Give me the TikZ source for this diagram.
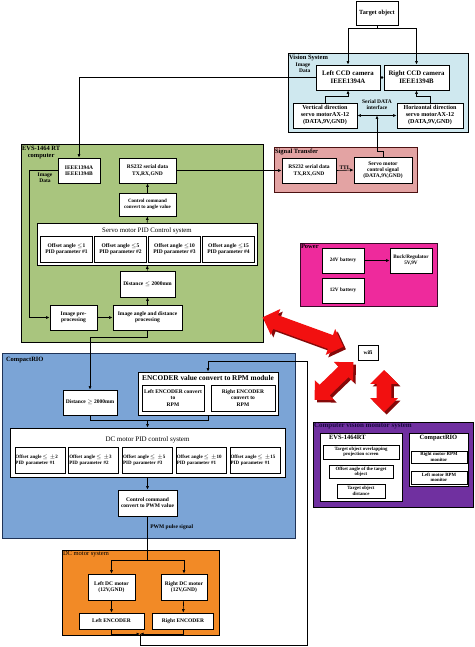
\documentclass[tikz,border=0pt]{standalone}
\usepackage{fontspec}
\setmainfont{Liberation Serif}
\usetikzlibrary{arrows.meta,shapes.arrows}
\definecolor{vision}{HTML}{CFE8EF}
\definecolor{evs}{HTML}{A9C57E}
\definecolor{signal}{HTML}{E3A3A3}
\definecolor{signalline}{HTML}{4A1010}
\definecolor{power}{HTML}{EE2A9C}
\definecolor{powerline}{HTML}{3A0A2A}
\definecolor{crio}{HTML}{7BA4D6}
\definecolor{crioline}{HTML}{1F3357}
\definecolor{dcmotor}{HTML}{F28A26}
\definecolor{monitor}{HTML}{7030A0}
\definecolor{monitortext}{HTML}{1A0A40}
\definecolor{wifired}{HTML}{F21010}

\begin{document}
\begin{tikzpicture}[x=1pt,y=-1pt,>={Latex[length=3.5pt,width=3pt]},line width=0.6pt,
  box/.style={draw,fill=white,line width=0.8pt,align=center,inner sep=0.5pt,font=\fontsize{5.5}{6.2}\selectfont\bfseries},
  sz/.style 2 args={minimum width=#1,minimum height=#2},
  grp/.style={draw,line width=1pt,inner sep=0pt},
  grptitle/.style={anchor=north west,inner sep=1.2pt,font=\fontsize{6.5}{7}\selectfont\bfseries},
  note/.style={inner sep=0.5pt,align=center,font=\fontsize{5.5}{6.2}\selectfont\bfseries},
  link/.style={shape=double arrow,double arrow head extend=6.5pt,inner xsep=0pt,inner ysep=7pt}]
\useasboundingbox (0,0) rectangle (474,647);

% groups
\node[grp,fill=vision,sz={180}{79}] (vision) at (378,93.5) {};
\node[grp,fill=evs,sz={242}{197}] (evs) at (142,243.5) {};
\node[grp,fill=signal,draw=signalline,sz={143}{44}] (signal) at (345.5,170) {};
\node[grp,fill=power,draw=powerline,sz={137}{63}] (power) at (368.5,274.5) {};
\node[grp,fill=crio,draw=crioline,sz={293}{185}] (crio) at (148.5,445.5) {};
\node[grp,fill=dcmotor,sz={157}{85}] (dcm) at (140.5,592.5) {};
\node[grp,fill=monitor,sz={160}{85}] (cvm) at (393,464.5) {};

\node[grptitle] (visiont) at (vision.north west) {Vision System};
\node[grptitle,align=center] (evst) at (evs.north west) {EVS-1464 RT\\computer};
\node[grptitle] (signalt) at (signal.north west) {Signal Transfer};
\node[grptitle] (powert) at (power.north west) {Power};
\node[grptitle] (criot) at ([shift={(3,3)}]crio.north west) {CompactRIO};
\node[grptitle,font=\fontsize{6.5}{7}\selectfont] (dcmt) at (dcm.north west) {DC motor system};
\node[grptitle,text=monitortext,font=\fontsize{7}{7.5}\selectfont\bfseries] (cvmt) at (cvm.north west) {Computer vision monitor system};

% target and vision system
\node[box,sz={42}{24},font=\fontsize{6.3}{7}\selectfont\bfseries] (target) at (377,13) {Target object};
\node[box,sz={64}{25},font=\fontsize{6.8}{7.8}\selectfont\bfseries] (ccdL) at (348,77.5) {Left CCD camera\\IEEE1394A};
\node[box,sz={65}{25},font=\fontsize{6.8}{7.8}\selectfont\bfseries] (ccdR) at (416.5,77.5) {Right CCD camera\\IEEE1394B};
\node[box,sz={64}{25},font=\fontsize{6.1}{7}\selectfont\bfseries] (servoV) at (325,115.5) {Vertical direction\\servo motorAX-12\\(DATA,9V,GND)};
\node[box,sz={66}{25},font=\fontsize{6.1}{7}\selectfont\bfseries] (servoH) at (430,115.5) {Horizontal direction\\servo motorAX-12\\(DATA,9V,GND)};
\node[note] (serialt) at (377,105) {Serial DATA\\interface};
\node[note,align=right] (imgt1) at (303,68) {Image\\Data};

% signal transfer
\node[box,sz={54}{25}] (rsS) at (309,170.5) {RS232 serial data\\TX,RX,GND};
\node[box,sz={58}{26}] (servoSig) at (383,170) {Servo motor\\control signal\\(DATA,9V,GND)};

% EVS-1464 RT computer
\node[box,sz={42}{25}] (ieee) at (79,170.5) {IEEE1394A\\IEEE1394B};
\node[note] (imgt2) at (45,178) {Image\\Data};
\node[box,sz={57}{25}] (rsE) at (147.5,170.5) {RS232 serial data\\TX,RX,GND};
\node[box,sz={57}{23},font=\fontsize{5}{6}\selectfont\bfseries] (cmdA) at (147.5,204.5) {Control command\\convert to angle value};
\node[box,sz={220}{42}] (spid) at (147,244) {};
\node[inner sep=0pt,font=\fontsize{6.8}{7}\selectfont] (spidt) at (147,230.5) {Servo motor PID Control system};
\foreach \i/\a in {1/1,2/5,3/10,4/15}
  \node[box,sz={52}{26}] (sp\i) at ({12.5+54*\i},249) {Offset angle $\leq$\a\\PID parameter \#\i};
\node[box,sz={55}{26}] (dist1) at (147.5,284) {Distance $\leq$ 2000mm};
\node[box,sz={47}{25}] (pre) at (73.5,317.5) {Image pre-\\processing};
\node[box,sz={69}{25}] (ang) at (147.5,317.5) {Image angle and distance\\processing};

% CompactRIO
\node[box,sz={54}{25}] (dist2) at (90,402.5) {Distance $\geq$ 2000mm};
\node[box,sz={140}{43}] (enc) at (208,393.5) {};
\node[inner sep=0pt,font=\fontsize{7.3}{8}\selectfont\bfseries] (enct) at (208,378.5) {ENCODER value convert to RPM module};
\node[box,sz={62}{26}] (encL) at (173,398) {Left ENCODER convert\\to\\RPM};
\node[box,sz={64}{26}] (encR) at (243,398) {Right ENCODER\\convert to\\RPM};
\node[box,sz={275}{49}] (dpid) at (147.5,452.5) {};
\node[inner sep=0pt,font=\fontsize{7}{7.5}\selectfont] (dpidt) at (147.5,439.5) {DC motor PID control system};
\foreach \i/\a/\p in {1/2/1,2/3/2,3/5/3,4/10/1,5/15/1}
  \node[box,sz={50}{26},text width=49pt,align=left,font=\fontsize{5}{6.2}\selectfont\bfseries] (dp\i) at ({-13.75+53.75*\i},460) {Offset angle\,$\leq\pm$\a\\PID parameter \#\p};
\node[box,sz={59}{26}] (pwm) at (147.5,503) {Control command\\convert to PWM value};

% DC motor system
\node[box,sz={47}{26}] (motL) at (111.5,587) {Left DC motor\\(12V,GND)};
\node[box,sz={46}{26}] (motR) at (184,587) {Right DC motor\\(12V,GND)};
\node[box,sz={65}{16}] (encoderL) at (111.5,621) {Left ENCODER};
\node[box,sz={61}{16}] (encoderR) at (183,621) {Right ENCODER};

% power
\node[box,sz={42}{25},font=\fontsize{5.2}{6}\selectfont\bfseries] (bat24) at (343,260.5) {24V battery};
\node[box,sz={42}{25},font=\fontsize{5.2}{6}\selectfont\bfseries] (bat12) at (343,290.5) {12V battery};
\node[box,sz={42}{25},font=\fontsize{5.2}{6}\selectfont\bfseries] (buck) at (411,260.5) {Buck/Regulator\\5V,9V};

% wifi links
\node[box,sz={20}{15}] (wifi) at (368,352.5) {wifi};
\node[link,fill=wifired!55!black,minimum height=86pt,rotate=-20] (linkAs) at (305.5,334.5) {};
\node[link,fill=wifired,minimum height=86pt,rotate=-20] (linkA) at (303,332) {};
\node[link,fill=wifired!55!black,minimum height=54pt,rotate=44] (linkBs) at (336.5,383.5) {};
\node[link,fill=wifired,minimum height=54pt,rotate=44] (linkB) at (334,381) {};
\node[link,fill=wifired!55!black,minimum height=42pt,rotate=90] (linkCs) at (386.5,393.5) {};
\node[link,fill=wifired,minimum height=42pt,rotate=90] (linkC) at (384,391) {};

% computer vision monitor system
\node[box,sz={82}{68}] (cvmE) at (361,467) {};
\node[grptitle] (cvmEt) at ([shift={(8,1)}]cvmE.north west) {EVS-1464RT};
\node[box,sz={76}{14},font=\fontsize{4.8}{5.3}\selectfont\bfseries] (ov) at (361,452) {Target object overlapping\\projection screen};
\node[box,sz={64}{13},font=\fontsize{4.8}{5.3}\selectfont\bfseries] (off) at (361,471.5) {Offset angle of the target\\object};
\node[box,sz={48}{14},font=\fontsize{4.8}{5.3}\selectfont\bfseries] (tdist) at (361,491) {Target object\\distance};
\node[box,sz={59}{53}] (cvmC) at (438.5,459.5) {};
\node[grptitle,anchor=north] (cvmCt) at ([yshift=-1]cvmC.north) {CompactRIO};
\node[box,sz={56}{12},font=\fontsize{4.8}{5.3}\selectfont\bfseries] (rpmR) at (439,457) {Right motor RPM\\monitor};
\node[box,sz={56}{13},font=\fontsize{4.8}{5.3}\selectfont\bfseries] (rpmL) at (439,477.5) {Left motor RPM\\monitor};

% connectors
\coordinate (tsplit) at (377,28);
\draw (target.south) -- (tsplit);
\draw[->] (tsplit) -| (ccdL.north);
\draw[->] (tsplit) -| (ccdR.north);
\draw[{Latex[length=2pt,width=3pt]}-{Latex[length=2pt,width=3pt]}] (ccdL.east) -- (ccdR.west);
\draw[->] (servoV.north) -- ++(0,-6) -| (ccdL.south);
\draw[->] (servoH.north) -- ++(0,-6) -| (ccdR.south);
\draw[<->] (servoV.east) -- (servoH.west);
\coordinate (sbus) at (377,115.5);
\draw[->] (servoSig.north) -- ++(0,-5) -| (sbus);
\draw[->] (ccdL.west) -| (ieee.north);
\draw[->] (rsE.east) -- (rsS.west);
\draw[->] (rsS.east) -- node[above,note] {TTL} (servoSig.west);
\draw[->] (ieee.west) -- ++(-28,0) |- (pre.west);
\draw[->] (cmdA) -- (rsE);
\draw[->] (spid) -- (cmdA);
\draw[->] (dist1) -- (spid);
\draw[->] (ang) -- (dist1);
\draw[->] (pre) -- (ang);
\draw[->] (ang.south) -- ++(0,7) -| (dist2.north);
\coordinate (jn) at (147.5,420);
\draw (dist2.south) |- (jn);
\draw (enc.south) |- (jn);
\draw[->] (jn) -- (dpid.north);
\draw[->] (dpid) -- (pwm);
\coordinate (msplit) at (147.5,560);
\draw (pwm.south) -- node[pos=0.25,right=2pt,note] {PWM pulse signal} (msplit);
\draw[->] (msplit) -| (motL.north);
\draw[->] (msplit) -| (motR.north);
\draw[->] (motL) -- (encoderL);
\draw[->] (motR) -- (encoderR);
\coordinate (fb) at (140,634);
\draw[->] (encoderL.south) |- (fb);
\draw[->] (encoderR.south) |- (fb);
\coordinate (fbtop) at (307,361);
\draw[->] (fb) -- ++(0,11) -| (fbtop) -| (enc.north);
\draw[->] (bat24) -- (buck);
\end{tikzpicture}
\end{document}
